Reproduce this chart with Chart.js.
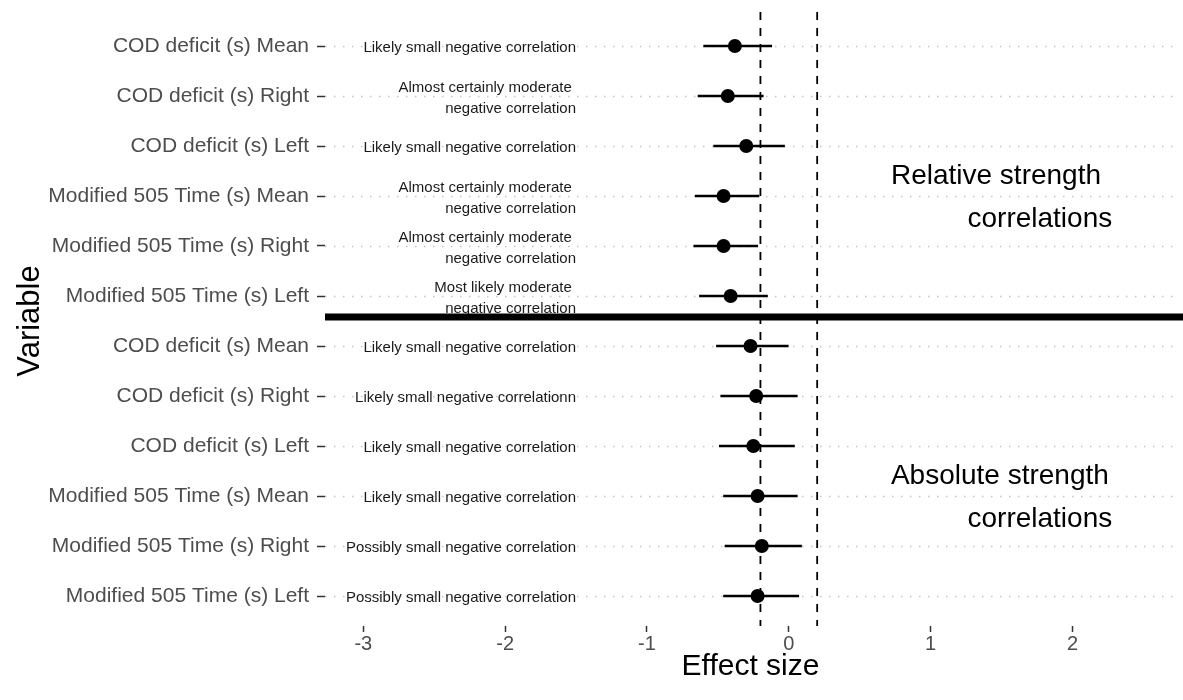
<!DOCTYPE html>
<html>
<head>
<meta charset="utf-8">
<script src="https://cdn.jsdelivr.net/npm/chart.js@4"></script>
<style>
  body { margin: 0; background: #fff; }
  #wrap { width: 1183px; height: 700px; }
</style>
</head>
<body>
<div id="wrap"><canvas id="mainChart" width="1183" height="700"></canvas></div>
<script>
// Rows, top to bottom (relative strength block first, then absolute)
const variables = [
    "COD deficit (s) Mean", "COD deficit (s) Right", "COD deficit (s) Left",
    "Modified 505 Time (s) Mean", "Modified 505 Time (s) Right", "Modified 505 Time (s) Left",
    "COD deficit (s) Mean", "COD deficit (s) Right", "COD deficit (s) Left",
    "Modified 505 Time (s) Mean", "Modified 505 Time (s) Right", "Modified 505 Time (s) Left"
];
const effect = [-0.38, -0.43, -0.30, -0.46, -0.46, -0.41, -0.27, -0.23, -0.25, -0.22, -0.19, -0.22];
const lower  = [-0.60, -0.64, -0.53, -0.66, -0.67, -0.63, -0.51, -0.48, -0.49, -0.46, -0.45, -0.46];
const upper  = [-0.12, -0.18, -0.03, -0.21, -0.22, -0.15, 0.00, 0.06, 0.04, 0.06, 0.09, 0.07];
const inference = [
    "Likely small negative correlation",
    "Almost certainly moderate \nnegative correlation",
    "Likely small negative correlation",
    "Almost certainly moderate \nnegative correlation",
    "Almost certainly moderate \nnegative correlation",
    "Most likely moderate \nnegative correlation",
    "Likely small negative correlation",
    "Likely small negative correlationn",
    "Likely small negative correlation",
    "Likely small negative correlation",
    "Possibly small negative correlation",
    "Possibly small negative correlation"
];
const groupTitles = [["Relative strength", "correlations"], ["Absolute strength", "correlations"]];
const xTicks = [-3, -2, -1, 0, 1, 2];
const refLines = [-0.2, 0.2];
const separatorAt = 5.42;

Chart.defaults.font.family = "'Liberation Sans', Arial, sans-serif";

// extra drawing: dotted row lines, dashed reference lines, labels, separator
const overlay = {
    id: "overlay",
    beforeDatasetsDraw(chart) {
        const { ctx, chartArea: a, scales: { x, y } } = chart;
        ctx.save();
        ctx.strokeStyle = "#c4c4c4";
        ctx.lineWidth = 1.5;
        ctx.setLineDash([1.5, 7.5]);
        variables.forEach((_, i) => {
            const py = Math.round(y.getPixelForValue(i)) + 0.5;
            ctx.beginPath(); ctx.moveTo(a.left, py); ctx.lineTo(a.right, py); ctx.stroke();
        });
        ctx.strokeStyle = "#000";
        ctx.lineWidth = 1.8;
        ctx.setLineDash([8, 8]);
        refLines.forEach(v => {
            const px = x.getPixelForValue(v);
            ctx.beginPath(); ctx.moveTo(px, a.top - 4); ctx.lineTo(px, a.bottom); ctx.stroke();
        });
        ctx.restore();
    },
    afterDatasetsDraw(chart) {
        const { ctx, chartArea: a, scales: { x, y } } = chart;
        ctx.save();
        // inference text, right aligned at x = -1.5
        ctx.fillStyle = "#1a1a1a";
        ctx.font = "15px 'Liberation Sans', Arial, sans-serif";
        ctx.textAlign = "right";
        ctx.textBaseline = "middle";
        const tx = x.getPixelForValue(-1.5);
        inference.forEach((t, i) => {
            const lines = t.split("\n");
            const cy = y.getPixelForValue(i) + 2;
            lines.forEach((ln, k) => {
                ctx.fillText(ln, tx, cy + (k - (lines.length - 1) / 2) * 21);
            });
        });
        // group titles on the right
        ctx.font = "28px 'Liberation Sans', Arial, sans-serif";
        ctx.textAlign = "left";
        ctx.textBaseline = "alphabetic";
        ctx.fillStyle = "#000";
        groupTitles.forEach((g, j) => {
            const base = j * 6;
            ctx.fillText(g[0], x.getPixelForValue(0.72), y.getPixelForValue(base + 2.76));
            ctx.fillText(g[1], x.getPixelForValue(1.26), y.getPixelForValue(base + 3.62));
        });
        // thick separator between the two blocks
        const sy = y.getPixelForValue(separatorAt);
        ctx.fillRect(a.left, sy - 3.5, chart.width - a.left, 7);
        ctx.restore();
    }
};

const ctx = document.getElementById("mainChart").getContext("2d");
new Chart(ctx, {
    type: "bar",
    data: {
        datasets: [
            {
                type: "scatter",
                data: effect.map((v, i) => ({ x: v, y: i })),
                backgroundColor: "#000",
                borderWidth: 0,
                pointRadius: 7,
                order: 0
            },
            {
                type: "bar",
                indexAxis: "y",
                data: lower.map((l, i) => ({ y: i, x: [l, upper[i]] })),
                backgroundColor: "#000",
                barThickness: 2,
                order: 1
            }
        ]
    },
    options: {
        responsive: false,
        animation: false,
        devicePixelRatio: 1,
        layout: { padding: { top: 16, left: 0, right: 0, bottom: 0 } },
        plugins: { legend: { display: false }, tooltip: { enabled: false } },
        scales: {
            x: {
                type: "linear",
                offset: false,
                min: -3.27,
                max: 2.73,
                afterBuildTicks: axis => { axis.ticks = xTicks.map(v => ({ value: v })); },
                afterFit: axis => { axis.height = 74; },
                grid: { offset: false, drawOnChartArea: false, drawTicks: true, tickLength: 6, tickColor: "#333", tickWidth: 1.5 },
                border: { display: false },
                ticks: { color: "#4d4d4d", font: { size: 20 }, padding: 0 },
                title: { display: true, text: "Effect size", color: "#000", font: { size: 30 }, padding: { top: 0, bottom: 15 } }
            },
            y: {
                type: "linear",
                offset: false,
                min: -0.6,
                max: 11.6,
                reverse: true,
                afterBuildTicks: axis => { axis.ticks = variables.map((_, i) => ({ value: i })); },
                afterFit: axis => { axis.width = 325; axis.paddingTop = 0; axis.paddingBottom = 0; },
                grid: { offset: false, drawOnChartArea: false, drawTicks: true, tickLength: 8, tickColor: "#333", tickWidth: 1.5 },
                border: { display: false },
                ticks: { color: "#4d4d4d", font: { size: 21, lineHeight: 1 }, padding: 8, callback: v => variables[v] },
                title: { display: true, text: "Variable", color: "#000", font: { size: 31 }, padding: { top: 12, bottom: 0 } }
            }
        }
    },
    plugins: [overlay]
});
</script>
</body>
</html>
